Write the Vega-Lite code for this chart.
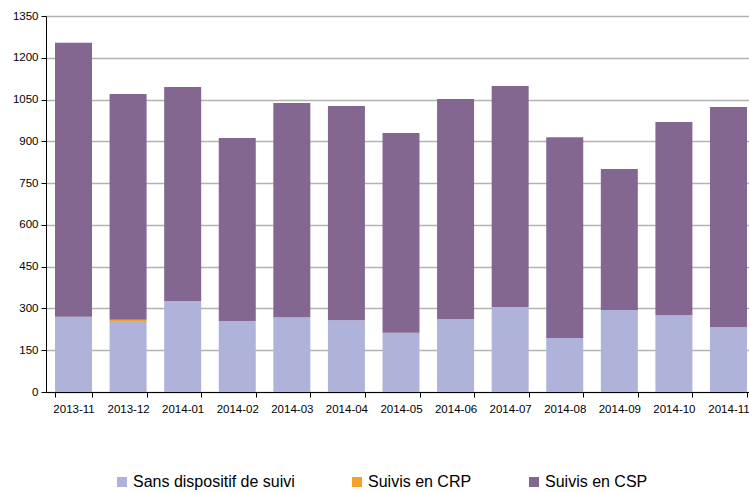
{
  "$schema": "https://vega.github.io/schema/vega-lite/v6.json",
  "autosize": {"type": "none"},
  "width": 703,
  "height": 376,
  "padding": {"left": 46, "top": 16, "right": 0, "bottom": 100},
  "background": "white",
  "config": {
    "view": {"stroke": null},
    "font": "Liberation Sans"
  },
  "data": {
    "values": [
      {"mois": "2013-11", "serie": "Sans dispositif de suivi", "ordre": 1, "valeur": 270},
      {"mois": "2013-11", "serie": "Suivis en CRP", "ordre": 2, "valeur": 0},
      {"mois": "2013-11", "serie": "Suivis en CSP", "ordre": 3, "valeur": 984},
      {"mois": "2013-12", "serie": "Sans dispositif de suivi", "ordre": 1, "valeur": 255},
      {"mois": "2013-12", "serie": "Suivis en CRP", "ordre": 2, "valeur": 4},
      {"mois": "2013-12", "serie": "Suivis en CSP", "ordre": 3, "valeur": 811},
      {"mois": "2014-01", "serie": "Sans dispositif de suivi", "ordre": 1, "valeur": 327},
      {"mois": "2014-01", "serie": "Suivis en CRP", "ordre": 2, "valeur": 0},
      {"mois": "2014-01", "serie": "Suivis en CSP", "ordre": 3, "valeur": 768},
      {"mois": "2014-02", "serie": "Sans dispositif de suivi", "ordre": 1, "valeur": 255},
      {"mois": "2014-02", "serie": "Suivis en CRP", "ordre": 2, "valeur": 0},
      {"mois": "2014-02", "serie": "Suivis en CSP", "ordre": 3, "valeur": 657},
      {"mois": "2014-03", "serie": "Sans dispositif de suivi", "ordre": 1, "valeur": 266},
      {"mois": "2014-03", "serie": "Suivis en CRP", "ordre": 2, "valeur": 2},
      {"mois": "2014-03", "serie": "Suivis en CSP", "ordre": 3, "valeur": 770},
      {"mois": "2014-04", "serie": "Sans dispositif de suivi", "ordre": 1, "valeur": 258},
      {"mois": "2014-04", "serie": "Suivis en CRP", "ordre": 2, "valeur": 0},
      {"mois": "2014-04", "serie": "Suivis en CSP", "ordre": 3, "valeur": 769},
      {"mois": "2014-05", "serie": "Sans dispositif de suivi", "ordre": 1, "valeur": 213},
      {"mois": "2014-05", "serie": "Suivis en CRP", "ordre": 2, "valeur": 0},
      {"mois": "2014-05", "serie": "Suivis en CSP", "ordre": 3, "valeur": 717},
      {"mois": "2014-06", "serie": "Sans dispositif de suivi", "ordre": 1, "valeur": 262},
      {"mois": "2014-06", "serie": "Suivis en CRP", "ordre": 2, "valeur": 0},
      {"mois": "2014-06", "serie": "Suivis en CSP", "ordre": 3, "valeur": 790},
      {"mois": "2014-07", "serie": "Sans dispositif de suivi", "ordre": 1, "valeur": 305},
      {"mois": "2014-07", "serie": "Suivis en CRP", "ordre": 2, "valeur": 0},
      {"mois": "2014-07", "serie": "Suivis en CSP", "ordre": 3, "valeur": 794},
      {"mois": "2014-08", "serie": "Sans dispositif de suivi", "ordre": 1, "valeur": 194},
      {"mois": "2014-08", "serie": "Suivis en CRP", "ordre": 2, "valeur": 0},
      {"mois": "2014-08", "serie": "Suivis en CSP", "ordre": 3, "valeur": 721},
      {"mois": "2014-09", "serie": "Sans dispositif de suivi", "ordre": 1, "valeur": 294},
      {"mois": "2014-09", "serie": "Suivis en CRP", "ordre": 2, "valeur": 0},
      {"mois": "2014-09", "serie": "Suivis en CSP", "ordre": 3, "valeur": 507},
      {"mois": "2014-10", "serie": "Sans dispositif de suivi", "ordre": 1, "valeur": 276},
      {"mois": "2014-10", "serie": "Suivis en CRP", "ordre": 2, "valeur": 0},
      {"mois": "2014-10", "serie": "Suivis en CSP", "ordre": 3, "valeur": 693},
      {"mois": "2014-11", "serie": "Sans dispositif de suivi", "ordre": 1, "valeur": 233},
      {"mois": "2014-11", "serie": "Suivis en CRP", "ordre": 2, "valeur": 0},
      {"mois": "2014-11", "serie": "Suivis en CSP", "ordre": 3, "valeur": 790}
    ]
  },
  "mark": {"type": "bar"},
  "encoding": {
    "x": {
      "field": "mois",
      "type": "ordinal",
      "scale": {"paddingInner": 0.322, "paddingOuter": 0.165, "range": [0, 710]},
      "axis": {
        "title": null,
        "labelAngle": 0,
        "labelFontSize": 11.5,
        "labelColor": "#000000",
        "labelPadding": 6,
        "tickBand": "extent",
        "tickSize": 5,
        "tickColor": "#000000",
        "domainColor": "#000000",
        "domainWidth": 1,
        "grid": false
      }
    },
    "y": {
      "field": "valeur",
      "type": "quantitative",
      "stack": "zero",
      "scale": {"domain": [0, 1350], "nice": false},
      "axis": {
        "title": null,
        "format": "d",
        "values": [0, 150, 300, 450, 600, 750, 900, 1050, 1200, 1350],
        "labelFontSize": 11.5,
        "labelColor": "#000000",
        "labelPadding": 3,
        "tickSize": 5,
        "tickColor": "#000000",
        "domainColor": "#000000",
        "gridColor": "#b3b3b3",
        "gridWidth": 1.5
      }
    },
    "color": {
      "field": "serie",
      "type": "nominal",
      "scale": {
        "domain": ["Sans dispositif de suivi", "Suivis en CRP", "Suivis en CSP"],
        "range": ["#afb3d9", "#f5a02a", "#836791"]
      },
      "legend": {
        "title": null,
        "orient": "none",
        "direction": "horizontal",
        "legendX": 68,
        "legendY": 458,
        "symbolType": "square",
        "symbolSize": 100,
        "symbolStrokeWidth": 0,
        "labelFontSize": 16,
        "labelColor": "#000000",
        "labelLimit": 300,
        "columnPadding": 54,
        "labelOffset": 3
      }
    },
    "order": {"field": "ordre", "type": "quantitative", "sort": "ascending"}
  }
}
